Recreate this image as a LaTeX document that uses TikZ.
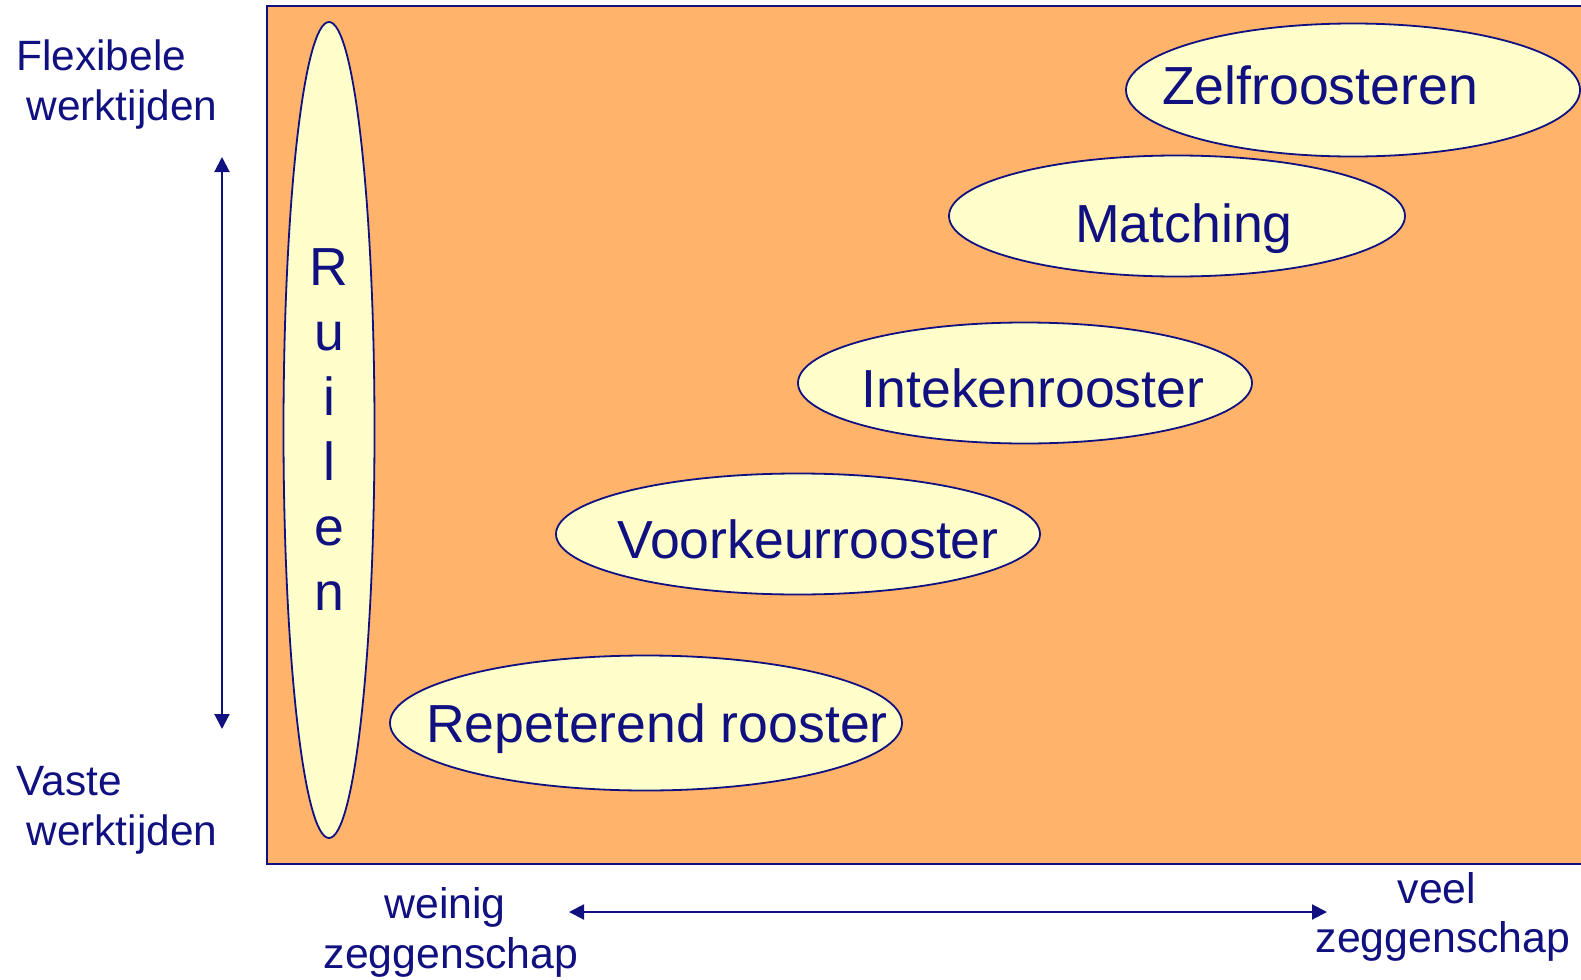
\documentclass[tikz,border=0pt]{standalone}
\usepackage{fontspec}
\setmainfont{Liberation Sans}
\usetikzlibrary{arrows.meta, positioning, shapes.geometric}
\definecolor{RoosterNavy}{RGB}{16, 16, 128}
\definecolor{RoosterOrange}{RGB}{255, 179, 107}
\definecolor{RoosterYellow}{RGB}{255, 255, 204}

\tikzset{
  vorm/.style={ellipse, draw=RoosterNavy, fill=RoosterYellow, line width=0.9pt, inner sep=0pt},
  naam/.style={anchor=base, text=RoosterNavy, font=\fontsize{26.8}{32.5}\selectfont, inner sep=0pt},
  as/.style={anchor=base west, text=RoosterNavy, font=\fontsize{21.2}{25}\selectfont, inner sep=0pt},
  asmid/.style={anchor=base, text=RoosterNavy, font=\fontsize{21.4}{25}\selectfont, inner sep=0pt},
  pijl/.style={draw=RoosterNavy, line width=1pt, {Triangle[length=7.5pt,width=7.5pt]}-{Triangle[length=7.5pt,width=7.5pt]}}
}

\begin{document}
\begin{tikzpicture}[x=0.5pt, y=-0.5pt]
                \useasboundingbox (0,0) rectangle (1581,980);
                \draw[fill=RoosterOrange, draw=RoosterNavy, line width=1.2pt] (267,6) rectangle (1610,864);
                % vormen van roosteren
                \node[vorm, minimum width=45.5pt, minimum height=408pt, align=center, text=RoosterNavy, font=\fontsize{26.8}{32.5}\selectfont] (ruil) at (329,430) {R\\u\\i\\l\\e\\n};
                \node[vorm, minimum width=227pt, minimum height=66.5pt] (zelf) at (1353,90) {};
                \node[vorm, minimum width=228pt, minimum height=60.5pt] (match) at (1177,216) {};
                \node[vorm, minimum width=227pt, minimum height=60.5pt] (inteken) at (1025,383) {};
                \node[vorm, minimum width=242pt, minimum height=60.5pt] (voorkeur) at (798,534) {};
                \node[vorm, minimum width=256pt, minimum height=67.5pt] (repet) at (646,723) {};
                \node[naam] (zelfT) at (1320,104) {Zelfroosteren};
                \node[naam] (matchT) at (1184,242) {Matching};
                \node[naam] (intekenT) at (1033,407) {Intekenrooster};
                \node[naam] (voorkeurT) at (808,558) {Voorkeurrooster};
                \node[naam] (repetT) at (657,742) {Repeterend rooster};
                % assen
                \node[as] (flexA) at (16,70) {Flexibele};
                \node[as] (flexB) at (26,120) {werktijden};
                \node[as] (vastA) at (16,795) {Vaste};
                \node[as] (vastB) at (26,845) {werktijden};
                \node[asmid] (weinigA) at (445,918) {weinig};
                \node[asmid] (weinigB) at (451,968) {zeggenschap};
                \node[asmid] (veelA) at (1437,903) {veel};
                \node[asmid] (veelB) at (1443,952) {zeggenschap};
                \coordinate (boven) at (222,157);
                \coordinate (onder) at (222,729);
                \coordinate (links) at (569,912);
                \coordinate (rechts) at (1327,912);
                \draw[pijl] (boven) -- (onder);
                \draw[pijl] (links) -- (rechts);
            \end{tikzpicture}
\end{document}
